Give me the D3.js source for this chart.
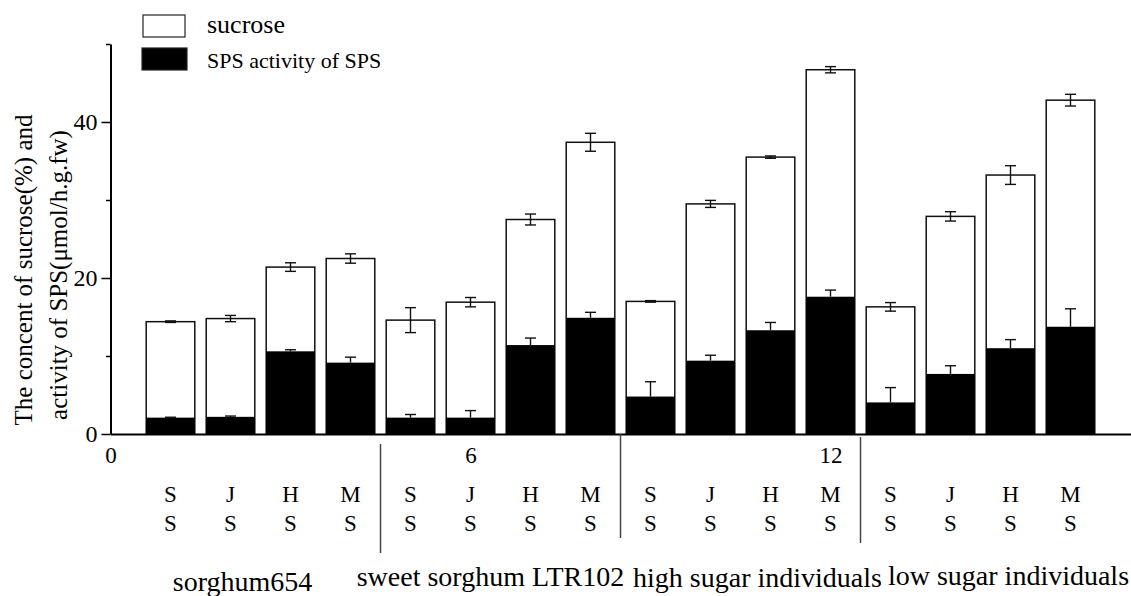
<!DOCTYPE html>
<html>
<head>
<meta charset="utf-8">
<script src="https://cdn.jsdelivr.net/npm/d3@7"></script>
<style>
  body { margin: 0; background: #fff; }
  text { font-family: "Liberation Serif", "Times New Roman", serif; fill: #000; }
</style>
</head>
<body>
<div id="graph"></div>
<script>
// values
var positions = [1, 2, 3, 4, 5, 6, 7, 8, 9, 10, 11, 12, 13, 14, 15, 16];
var stages = ["SS", "JS", "HS", "MS", "SS", "JS", "HS", "MS", "SS", "JS", "HS", "MS", "SS", "JS", "HS", "MS"];
var groups = ["sorghum654", "sweet sorghum LTR102", "high sugar individuals", "low sugar individuals"];
var sucrose    = [14.4, 14.8, 21.4, 22.5, 14.6, 16.9, 27.5, 37.4, 17.0, 29.5, 35.5, 46.7, 16.3, 27.9, 33.2, 42.8];
var sucroseErr = [0.1, 0.4, 0.55, 0.6, 1.6, 0.6, 0.7, 1.15, 0.1, 0.45, 0.15, 0.4, 0.55, 0.6, 1.2, 0.75];
var sps        = [2.1, 2.2, 10.6, 9.15, 2.1, 2.1, 11.4, 14.9, 4.8, 9.4, 13.3, 17.6, 4.05, 7.7, 11.0, 13.75];
var spsErr     = [0.05, 0.1, 0.2, 0.7, 0.4, 0.9, 0.9, 0.7, 1.9, 0.7, 1.0, 0.85, 1.9, 1.05, 1.1, 2.3];
var xTicks = [0, 6, 12];
var yTicks = [0, 10, 20, 30, 40, 50];
var yLabels = [0, 20, 40];
var legendItems = ["sucrose", "SPS activity of SPS"];

var width = 1131,
    height = 596,
    svg = d3.select('#graph')
        .append('svg')
        .attr('width', width)
        .attr('height', height);

var x = d3.scaleLinear().domain([0, 17]).range([110.5, 1130.5]),
    y = d3.scaleLinear().domain([0, 50]).range([434, 44]),
    barW = x(0.81) - x(0);

var data = positions.map(function (p, i) {
    return {pos: p, stage: stages[i], suc: sucrose[i], sucErr: sucroseErr[i],
            sps: sps[i], spsErr: spsErr[i]};
});

// white sucrose bars
svg.selectAll('rect.suc')
    .data(data)
    .enter()
    .append('rect')
    .attr('class', 'suc')
    .attr('x', function (d) { return x(d.pos) - barW / 2; })
    .attr('y', function (d) { return y(d.suc); })
    .attr('width', barW)
    .attr('height', function (d) { return y(0) - y(d.suc); })
    .attr('fill', '#fff')
    .attr('stroke', '#111')
    .attr('stroke-width', 1.5);

// black SPS bars
svg.selectAll('rect.sps')
    .data(data)
    .enter()
    .append('rect')
    .attr('class', 'sps')
    .attr('x', function (d) { return x(d.pos) - barW / 2; })
    .attr('y', function (d) { return y(d.sps); })
    .attr('width', barW)
    .attr('height', function (d) { return y(0) - y(d.sps); })
    .attr('fill', '#000');

// error bars (the SPS ones only show above the black bar)
function errorBars(cls, val, err, upperOnly) {
    var g = svg.selectAll('g.' + cls)
        .data(data)
        .enter()
        .append('g')
        .attr('class', cls)
        .attr('stroke', '#111')
        .attr('stroke-width', 1.4);
    g.append('line')
        .attr('x1', function (d) { return x(d.pos); })
        .attr('x2', function (d) { return x(d.pos); })
        .attr('y1', function (d) { return y(upperOnly ? d[val] : d[val] - d[err]); })
        .attr('y2', function (d) { return y(d[val] + d[err]); });
    (upperOnly ? [1] : [-1, 1]).forEach(function (s) {
        g.append('line')
            .attr('x1', function (d) { return x(d.pos) - 5.5; })
            .attr('x2', function (d) { return x(d.pos) + 5.5; })
            .attr('y1', function (d) { return y(d[val] + s * d[err]); })
            .attr('y2', function (d) { return y(d[val] + s * d[err]); });
    });
}
errorBars('errSuc', 'suc', 'sucErr', false);
errorBars('errSps', 'sps', 'spsErr', true);

// y axis
var yAxis = svg.append('g')
    .attr('transform', 'translate(' + x(0) + ',0)')
    .call(d3.axisLeft(y).tickValues(yTicks).tickSizeOuter(0)
        .tickFormat(function (d) { return yLabels.indexOf(d) >= 0 ? d : ''; }));
yAxis.select('.domain').attr('stroke-width', 2);
yAxis.selectAll('.tick line')
    .attr('stroke-width', 1.5)
    .attr('x2', function (d) { return yLabels.indexOf(d) >= 0 ? -9 : -4.5; });
yAxis.selectAll('.tick text')
    .attr('x', -13)
    .style('font-size', '24px')
    .style('font-family', '"Liberation Serif", "Times New Roman", serif');

// x axis
var xAxis = svg.append('g')
    .attr('transform', 'translate(0,' + y(0) + ')')
    .call(d3.axisBottom(x).tickValues(xTicks).tickSize(0).tickSizeOuter(0));
xAxis.select('.domain').attr('stroke-width', 2);
xAxis.selectAll('.tick text')
    .attr('y', 13)
    .style('font-size', '23px')
    .style('font-family', '"Liberation Serif", "Times New Roman", serif');

// group dividers
var dividerSpan = [[444, 553], [434, 538], [437, 543]];
svg.selectAll('line.div')
    .data([4.5, 8.5, 12.5])
    .enter()
    .append('line')
    .attr('class', 'div')
    .attr('x1', function (d) { return x(d); })
    .attr('x2', function (d) { return x(d); })
    .attr('y1', function (d, i) { return dividerSpan[i][0]; })
    .attr('y2', function (d, i) { return dividerSpan[i][1]; })
    .attr('stroke', '#444')
    .attr('stroke-width', 1.5);

// stage letters, two rows
[0, 1].forEach(function (row) {
    svg.selectAll('text.stage' + row)
        .data(data)
        .enter()
        .append('text')
        .attr('class', 'stage' + row)
        .attr('x', function (d) { return x(d.pos); })
        .attr('y', row === 0 ? 502 : 531)
        .attr('text-anchor', 'middle')
        .style('font-size', '23px')
        .text(function (d) { return d.stage.charAt(row); });
});

// group names
var groupNudge = [-18, -10, 17, 28],
    groupBase = [591, 586, 587, 585];
svg.selectAll('text.group')
    .data(groups)
    .enter()
    .append('text')
    .attr('class', 'group')
    .attr('x', function (d, i) { return x(i * 4 + 2.5) + groupNudge[i]; })
    .attr('y', function (d, i) { return groupBase[i]; })
    .attr('text-anchor', 'middle')
    .style('font-size', '28px')
    .text(function (d) { return d; });

// y label
svg.append('text')
    .attr('transform', 'translate(32,270) rotate(-90)')
    .attr('text-anchor', 'middle')
    .style('font-size', '25px')
    .text('The concent of sucrose(%) and');
svg.append('text')
    .attr('transform', 'translate(67,275) rotate(-90)')
    .attr('text-anchor', 'middle')
    .style('font-size', '25px')
    .text('activity of SPS(\u03bcmol/h.g.fw)');

// legend
var legend = svg.selectAll('g.legend')
    .data(legendItems)
    .enter()
    .append('g')
    .attr('class', 'legend')
    .attr('transform', function (d, i) { return 'translate(143,' + (15 + i * 33) + ')'; });
legend.append('rect')
    .attr('x', function (d, i) { return i ? -1 : 0; })
    .attr('width', function (d, i) { return i ? 45 : 42; })
    .attr('height', 22)
    .attr('fill', function (d, i) { return i ? '#000' : '#fff'; })
    .attr('stroke', '#222')
    .attr('stroke-width', 1.2);
legend.append('text')
    .attr('x', 64)
    .attr('y', function (d, i) { return i ? 20 : 18; })
    .style('font-size', function (d, i) { return i ? '22px' : '26px'; })
    .text(function (d) { return d; });
</script>
</body>
</html>
